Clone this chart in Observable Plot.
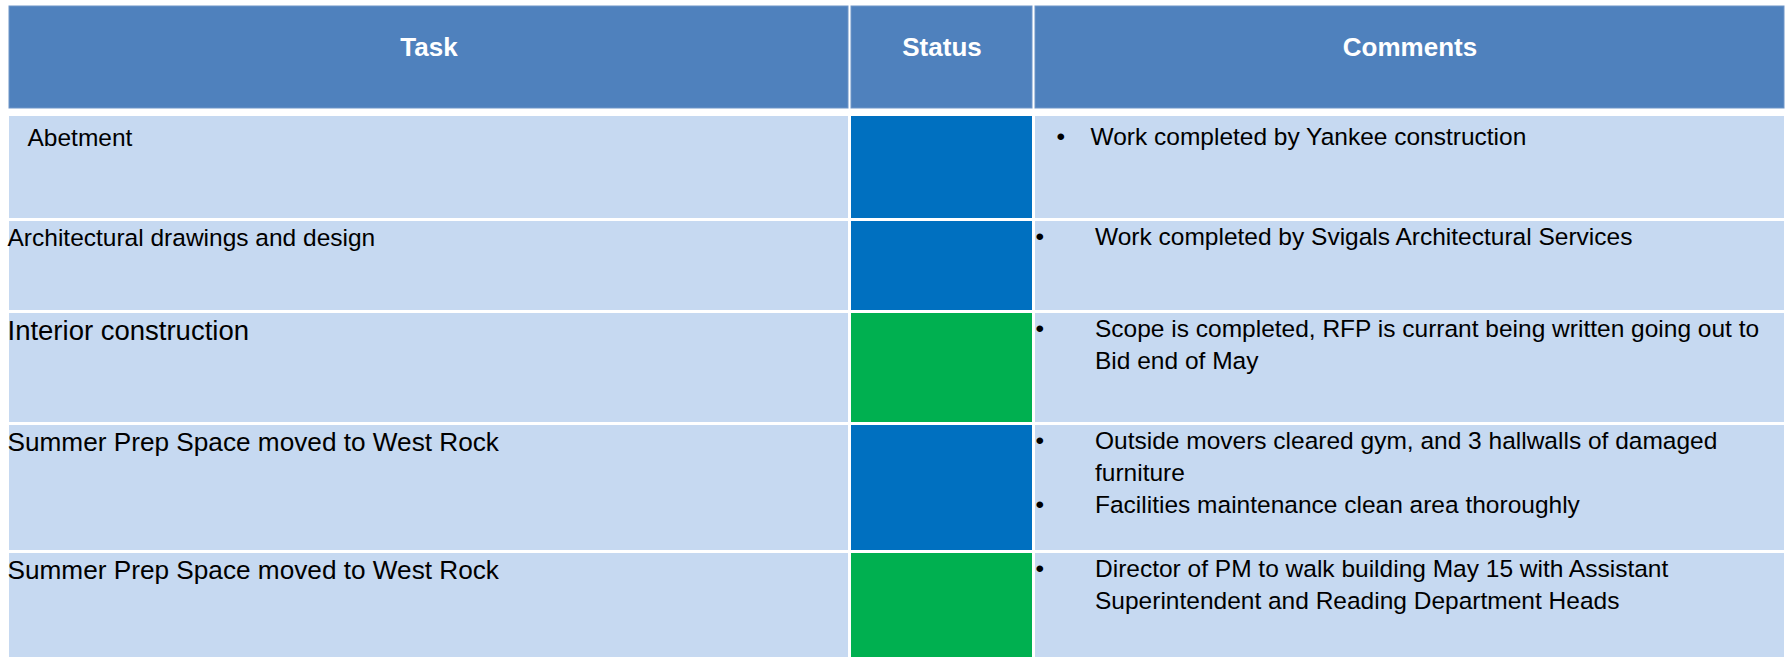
<!DOCTYPE html>
<html>
<head>
<meta charset="utf-8">
<script src="https://cdn.jsdelivr.net/npm/d3@7"></script>
<script src="https://cdn.jsdelivr.net/npm/@observablehq/plot@0.6"></script>
<style>
html, body { margin: 0; padding: 0; background: #fff; }
#chart svg { display: block; }
</style>
</head>
<body>
<div id="chart"></div>
<script>
// ---------- data ----------
const headers = ["Task", "Status", "Comments"];
const tasks = [
  "Abetment",
  "Architectural drawings and design",
  "Interior construction",
  "Summer Prep Space moved to West Rock",
  "Summer Prep Space moved to West Rock"
];
const statuses = ["Complete", "Complete", "On track", "Complete", "On track"];
const statusLevels = ["Complete", "On track"];
const comments = [
  [["Work completed by Yankee construction"]],
  [["Work completed by Svigals Architectural Services"]],
  [["Scope is completed, RFP is currant being written going out to", "Bid end of May"]],
  [["Outside movers cleared gym, and 3 hallwalls of damaged", "furniture"],
   ["Facilities maintenance clean area thoroughly"]],
  [["Director of PM to walk building May 15 with Assistant", "Superintendent and Reading Department Heads"]]
];

// ---------- layout ----------
const W = 1785, H = 657;
const colX = [[9, 848], [851, 1032], [1035, 1784]];
const headerY = [6, 108];
const rowY = [[116, 218], [221, 310], [313, 422], [425, 550], [553, 657]];
const rowPad = [5, 0, 0, 0, 0];
const taskSize = [24.5, 24.5, 27.5, 26.2, 26.2];
const taskX = [27, 7, 7, 7, 7];
const bulletX = [1056, 1035, 1035, 1035, 1035];
const commentX = [1090, 1094.5, 1094.5, 1094.5, 1094.5];
const commentSize = 24.5;
const lineStep = 31.8;
const firstLine = 23.8;

// ---------- derived tables ----------
const headerCells = headers.map((h, c) => ({label: h, x1: colX[c][0], x2: colX[c][1], y1: headerY[0], y2: headerY[1]}));
const bodyCells = [];
const statusCells = [];
tasks.forEach((t, r) => {
  [0, 2].forEach(c => bodyCells.push({x1: colX[c][0], x2: colX[c][1], y1: rowY[r][0], y2: rowY[r][1]}));
  statusCells.push({status: statuses[r], x1: colX[1][0], x2: colX[1][1], y1: rowY[r][0], y2: rowY[r][1]});
});
const taskTexts = tasks.map((t, r) => ({
  text: t, x: taskX[r], y: rowY[r][0] + rowPad[r] + 0.98 * taskSize[r], size: taskSize[r]
}));
const commentLines = [];
const bullets = [];
comments.forEach((items, r) => {
  let k = 0;
  items.forEach(lines => {
    lines.forEach((line, j) => {
      const y = rowY[r][0] + rowPad[r] + firstLine + k * lineStep;
      if (j === 0) bullets.push({x: bulletX[r], y});
      commentLines.push({text: line, x: commentX[r], y});
      k++;
    });
  });
});

const chart = Plot.plot({
  width: W,
  height: H,
  margin: 0,
  x: {domain: [0, W], range: [0, W], axis: null},
  y: {domain: [0, H], range: [0, H], axis: null},
  color: {domain: statusLevels, range: ["#0070C0", "#00B050"]},
  style: {fontFamily: "'Liberation Sans', Arial, sans-serif", background: "white", color: "black"},
  marks: [
    Plot.rect(headerCells, {x1: "x1", x2: "x2", y1: "y1", y2: "y2", fill: "#4F81BD", stroke: "#6E95C8", strokeWidth: 1}),
    Plot.rect(bodyCells, {x1: "x1", x2: "x2", y1: "y1", y2: "y2", fill: "#C6D9F1"}),
    Plot.rect(statusCells, {x1: "x1", x2: "x2", y1: "y1", y2: "y2", fill: "status"}),
    Plot.text(headerCells, {
      x: d => (d.x1 + d.x2) / 2, y: d => d.y1 + 49, text: "label",
      fill: "white", fontWeight: "bold", fontSize: 26, lineAnchor: "bottom", textAnchor: "middle"
    }),
    Plot.text(taskTexts, {
      x: "x", y: "y", text: "text", fontSize: "size",
      fill: "black", textAnchor: "start", lineAnchor: "bottom"
    }),
    Plot.text(bullets, {
      x: "x", y: "y", text: () => "•", fontSize: commentSize,
      fill: "black", textAnchor: "start", lineAnchor: "bottom"
    }),
    Plot.text(commentLines, {
      x: "x", y: "y", text: "text", fontSize: commentSize,
      fill: "black", textAnchor: "start", lineAnchor: "bottom"
    })
  ]
});
document.getElementById("chart").appendChild(chart);
</script>
</body>
</html>
